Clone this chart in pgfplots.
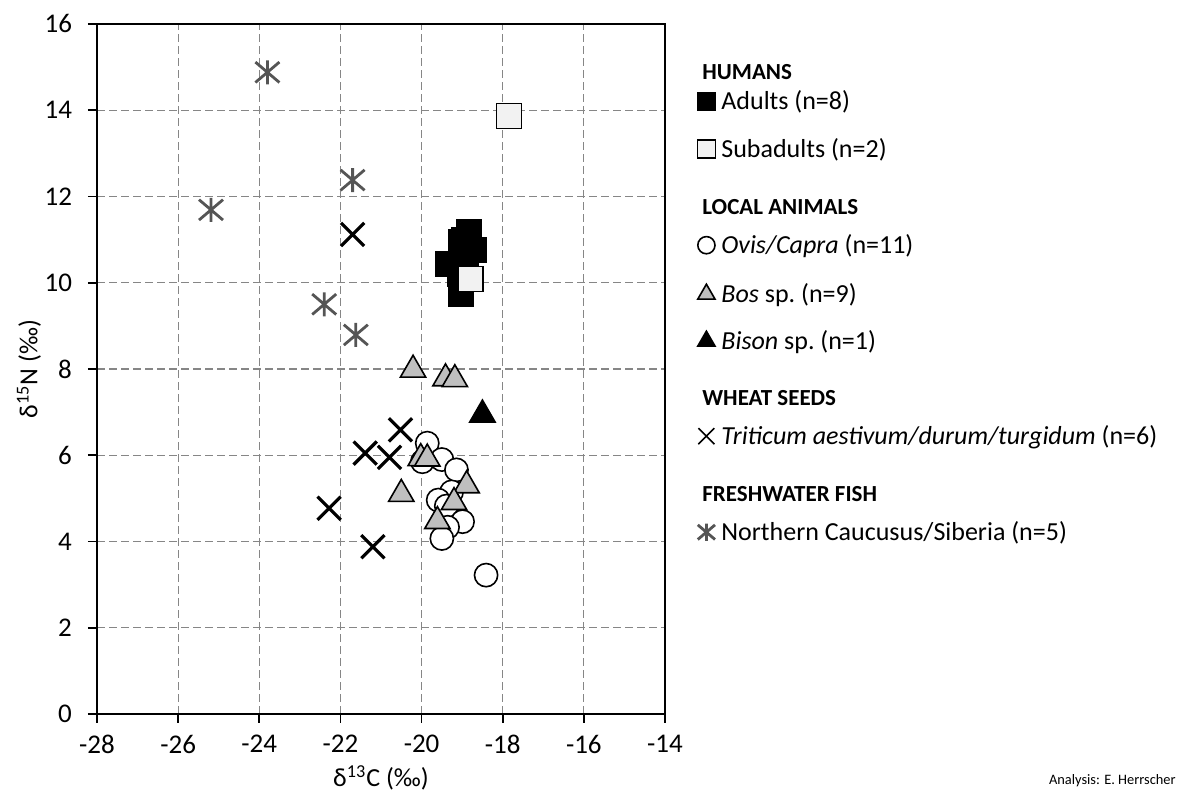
\documentclass[border=0pt]{standalone}
\usepackage{pgfplots}
\pgfplotsset{compat=1.18}
\usepackage{fontspec}
\setmainfont{Carlito}
\definecolor{bosgray}{HTML}{BFBFBF}
\definecolor{subgray}{HTML}{F2F2F2}
\definecolor{fishgray}{HTML}{555555}
\pgfdeclareplotmark{bigx}{%
  \pgfpathmoveto{\pgfqpoint{-\pgfplotmarksize}{-\pgfplotmarksize}}%
  \pgfpathlineto{\pgfqpoint{\pgfplotmarksize}{\pgfplotmarksize}}%
  \pgfpathmoveto{\pgfqpoint{-\pgfplotmarksize}{\pgfplotmarksize}}%
  \pgfpathlineto{\pgfqpoint{\pgfplotmarksize}{-\pgfplotmarksize}}%
  \pgfusepathqstroke}
\pgfdeclareplotmark{xstar}{%
  \pgfpathmoveto{\pgfqpoint{-\pgfplotmarksize}{-0.85\pgfplotmarksize}}%
  \pgfpathlineto{\pgfqpoint{\pgfplotmarksize}{0.85\pgfplotmarksize}}%
  \pgfpathmoveto{\pgfqpoint{-\pgfplotmarksize}{0.85\pgfplotmarksize}}%
  \pgfpathlineto{\pgfqpoint{\pgfplotmarksize}{-0.85\pgfplotmarksize}}%
  \pgfpathmoveto{\pgfqpoint{0pt}{-\pgfplotmarksize}}%
  \pgfpathlineto{\pgfqpoint{0pt}{\pgfplotmarksize}}%
  \pgfusepathqstroke}
% strut: depth 4pt, height #1 above baseline
\newcommand{\rs}[1]{\rule[-4pt]{0pt}{\dimexpr #1+4pt\relax}}
\newcommand{\hd}[2]{\hspace*{-9.5pt}\rs{#1}{\fontsize{11.5}{13}\selectfont\bfseries #2}}
\pgfplotsset{
  legimg/.style={legend image code/.code={\draw[##1] plot coordinates {(4.5pt,4.2pt)};}},
}
\begin{document}
\begin{tikzpicture}
\path[use as bounding box, clip] (-48.5pt,-43.5pt) rectangle (540.5pt,357pt);
\begin{axis}[
  at={(0,0)}, anchor=south west,
  scale only axis, width=284pt, height=345pt,
  xmin=-28, xmax=-14, ymin=0, ymax=16,
  xtick={-28,-26,...,-14}, ytick={0,2,...,16},
  grid=major,
  major grid style={dash pattern=on 4pt off 2pt, color=gray!95, line width=0.6pt},
  axis line style={line width=0.8pt},
  tick align=outside, xtick pos=left, ytick pos=left,
  major tick length=4.5pt,
  tick style={black, line width=0.8pt},
  ticklabel style={font=\fontsize{13.5}{16}\selectfont},
  /pgf/number format/assume math mode=true,
  yticklabel style={xshift=-4.5pt},
  xticklabel style={yshift=-2.5pt},
  xlabel={δ\textsuperscript{13}C (‰)},
  ylabel={δ\textsuperscript{15}N (‰)},
  label style={font=\fontsize{13}{15}\selectfont},
  xlabel style={at={(axis description cs:0.5,0)}, anchor=center, yshift=-32pt},
  ylabel style={at={(axis description cs:0,0.5)}, anchor=center, yshift=34pt},
  legend style={at={(axis description cs:1,1)}, anchor=north west,
    xshift=16pt, yshift=-18.6pt, draw=none, fill=none,
    inner sep=0pt, row sep=0pt, column sep=3pt,
    nodes={inner sep=0pt, text depth=},
    cells={anchor=base west},
    font=\fontsize{13}{15}\selectfont},
]
\addlegendimage{empty legend}
\addlegendentry{\hd{9pt}{HUMANS}}
% Adults
\addplot[only marks, mark=square*, mark size=6.25pt, draw=black, fill=black, legimg,
  legend image post style={mark size=4.5pt}]
  coordinates {(-18.83,11.18) (-18.95,11.0) (-19.03,10.95) (-18.70,10.76)
               (-18.9,10.6) (-19.34,10.43) (-19.05,10.2) (-19.03,9.74)};
\addlegendentry{\rs{11pt}Adults (n=8)}
% Subadults
\addplot[only marks, mark=square*, mark size=6.25pt, draw=black, fill=subgray, line width=0.8pt, legimg,
  legend image post style={mark size=4.5pt}]
  coordinates {(-18.79,10.09) (-17.85,13.87)};
\addlegendentry{\rs{20pt}Subadults (n=2)}
\addlegendimage{empty legend}
\addlegendentry{\hd{24.5pt}{LOCAL ANIMALS}}
% Ovis/Capra
\addplot[only marks, mark=*, mark size=5.8pt, draw=black, fill=white, line width=0.8pt, legimg,
  legend image post style={mark size=4.3pt}]
  coordinates {(-19.86,6.28) (-19.98,5.85) (-19.5,5.9) (-19.14,5.66) (-19.26,5.15)
               (-19.59,4.96) (-19.39,4.82) (-18.99,4.46) (-19.36,4.33) (-19.5,4.07)
               (-18.41,3.22)};
\addlegendentry{\rs{15.5pt}\textit{Ovis/Capra} (n=11)}
% Bos
\addplot[only marks, mark=triangle*, mark size=7.3pt, draw=black, fill=bosgray, line width=0.8pt, legimg,
  legend image post style={mark size=5pt}]
  coordinates {(-20.21,7.98) (-19.41,7.78) (-19.18,7.76) (-20.02,5.93) (-19.86,5.92)
               (-20.5,5.10) (-18.89,5.30) (-19.2,4.91) (-19.61,4.47)};
\addlegendentry{\rs{20.5pt}\textit{Bos} sp.\ (n=9)}
% Bison
\addplot[only marks, mark=triangle*, mark size=7.3pt, draw=black, fill=black, line width=0.8pt, legimg,
  legend image post style={mark size=5pt}]
  coordinates {(-18.5,6.94)};
\addlegendentry{\rs{19.5pt}\textit{Bison} sp.\ (n=1)}
\addlegendimage{empty legend}
\addlegendentry{\hd{24pt}{WHEAT SEEDS}}
% Wheat
\addplot[only marks, mark=bigx, mark size=5.8pt, draw=black, line width=1.6pt, legimg,
  legend image post style={mark size=4pt, line width=0.8pt}]
  coordinates {(-20.52,6.59) (-21.39,6.05) (-20.79,5.95) (-22.28,4.77) (-21.2,3.88) (-21.7,11.12)};
\addlegendentry{\rs{15.5pt}\textit{Triticum aestivum/durum/turgidum} (n=6)}
\addlegendimage{empty legend}
\addlegendentry{\hd{24.5pt}{FRESHWATER FISH}}
% Fish
\addplot[only marks, mark=xstar, mark size=6pt, draw=fishgray, line width=1.4pt, legimg,
  legend image post style={mark size=4.3pt, line width=1.4pt}]
  coordinates {(-23.8,14.88) (-21.7,12.38) (-25.19,11.69) (-22.4,9.5) (-21.62,8.79)};
\addlegendentry{\rs{15.5pt}Northern Caucusus/Siberia (n=5)}
\end{axis}
\node[anchor=east, font=\fontsize{7.2}{9}\selectfont, inner sep=0pt] at (539.5pt,-33.5pt) {Analysis: E. Herrscher};
\end{tikzpicture}
\end{document}
